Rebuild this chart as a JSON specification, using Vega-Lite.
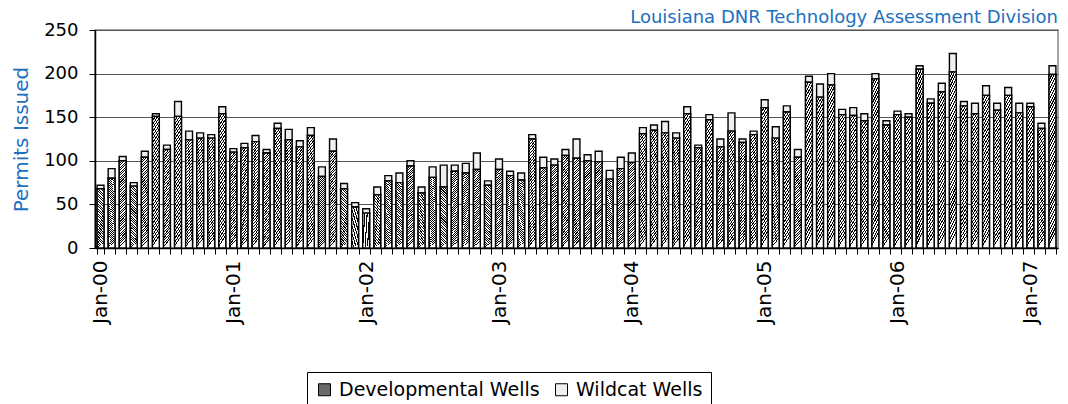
{
  "$schema": "https://vega.github.io/schema/vega-lite/v6.json",
  "width": 963,
  "height": 218,
  "autosize": {"type": "none"},
  "padding": {"left": 95, "top": 30, "right": 10, "bottom": 156},
  "background": "white",
  "title": {"text": "Louisiana DNR Technology Assessment Division", "anchor": "end", "frame": "group", "color": "#2070c0", "font": "DejaVu Sans", "fontSize": 18, "fontWeight": "normal", "offset": -6},
  "config": {"view": {"stroke": "#888888", "strokeWidth": 1.5}},
  "data": {"values": [
    {"m":"Jan-00","Developmental Wells":68,"Wildcat Wells":4},
    {"m":"Feb-00","Developmental Wells":80,"Wildcat Wells":11},
    {"m":"Mar-00","Developmental Wells":100,"Wildcat Wells":5},
    {"m":"Apr-00","Developmental Wells":71,"Wildcat Wells":4},
    {"m":"May-00","Developmental Wells":104,"Wildcat Wells":7},
    {"m":"Jun-00","Developmental Wells":151,"Wildcat Wells":3},
    {"m":"Jul-00","Developmental Wells":113,"Wildcat Wells":5},
    {"m":"Aug-00","Developmental Wells":151,"Wildcat Wells":17},
    {"m":"Sep-00","Developmental Wells":124,"Wildcat Wells":10},
    {"m":"Oct-00","Developmental Wells":126,"Wildcat Wells":6},
    {"m":"Nov-00","Developmental Wells":126,"Wildcat Wells":4},
    {"m":"Dec-00","Developmental Wells":154,"Wildcat Wells":8},
    {"m":"Jan-01","Developmental Wells":110,"Wildcat Wells":4},
    {"m":"Feb-01","Developmental Wells":115,"Wildcat Wells":5},
    {"m":"Mar-01","Developmental Wells":122,"Wildcat Wells":7},
    {"m":"Apr-01","Developmental Wells":109,"Wildcat Wells":4},
    {"m":"May-01","Developmental Wells":137,"Wildcat Wells":6},
    {"m":"Jun-01","Developmental Wells":124,"Wildcat Wells":12},
    {"m":"Jul-01","Developmental Wells":116,"Wildcat Wells":7},
    {"m":"Aug-01","Developmental Wells":129,"Wildcat Wells":9},
    {"m":"Sep-01","Developmental Wells":82,"Wildcat Wells":11},
    {"m":"Oct-01","Developmental Wells":111,"Wildcat Wells":14},
    {"m":"Nov-01","Developmental Wells":68,"Wildcat Wells":6},
    {"m":"Dec-01","Developmental Wells":47,"Wildcat Wells":5},
    {"m":"Jan-02","Developmental Wells":40,"Wildcat Wells":5},
    {"m":"Feb-02","Developmental Wells":61,"Wildcat Wells":9},
    {"m":"Mar-02","Developmental Wells":77,"Wildcat Wells":6},
    {"m":"Apr-02","Developmental Wells":75,"Wildcat Wells":11},
    {"m":"May-02","Developmental Wells":94,"Wildcat Wells":6},
    {"m":"Jun-02","Developmental Wells":63,"Wildcat Wells":7},
    {"m":"Jul-02","Developmental Wells":81,"Wildcat Wells":12},
    {"m":"Aug-02","Developmental Wells":70,"Wildcat Wells":25},
    {"m":"Sep-02","Developmental Wells":88,"Wildcat Wells":7},
    {"m":"Oct-02","Developmental Wells":86,"Wildcat Wells":11},
    {"m":"Nov-02","Developmental Wells":90,"Wildcat Wells":19},
    {"m":"Dec-02","Developmental Wells":72,"Wildcat Wells":5},
    {"m":"Jan-03","Developmental Wells":90,"Wildcat Wells":12},
    {"m":"Feb-03","Developmental Wells":83,"Wildcat Wells":5},
    {"m":"Mar-03","Developmental Wells":78,"Wildcat Wells":8},
    {"m":"Apr-03","Developmental Wells":125,"Wildcat Wells":5},
    {"m":"May-03","Developmental Wells":92,"Wildcat Wells":12},
    {"m":"Jun-03","Developmental Wells":95,"Wildcat Wells":7},
    {"m":"Jul-03","Developmental Wells":106,"Wildcat Wells":7},
    {"m":"Aug-03","Developmental Wells":103,"Wildcat Wells":22},
    {"m":"Sep-03","Developmental Wells":100,"Wildcat Wells":7},
    {"m":"Oct-03","Developmental Wells":99,"Wildcat Wells":12},
    {"m":"Nov-03","Developmental Wells":79,"Wildcat Wells":10},
    {"m":"Dec-03","Developmental Wells":91,"Wildcat Wells":13},
    {"m":"Jan-04","Developmental Wells":98,"Wildcat Wells":11},
    {"m":"Feb-04","Developmental Wells":131,"Wildcat Wells":7},
    {"m":"Mar-04","Developmental Wells":135,"Wildcat Wells":6},
    {"m":"Apr-04","Developmental Wells":132,"Wildcat Wells":13},
    {"m":"May-04","Developmental Wells":126,"Wildcat Wells":6},
    {"m":"Jun-04","Developmental Wells":154,"Wildcat Wells":8},
    {"m":"Jul-04","Developmental Wells":115,"Wildcat Wells":3},
    {"m":"Aug-04","Developmental Wells":147,"Wildcat Wells":6},
    {"m":"Sep-04","Developmental Wells":116,"Wildcat Wells":9},
    {"m":"Oct-04","Developmental Wells":134,"Wildcat Wells":21},
    {"m":"Nov-04","Developmental Wells":121,"Wildcat Wells":4},
    {"m":"Dec-04","Developmental Wells":130,"Wildcat Wells":4},
    {"m":"Jan-05","Developmental Wells":161,"Wildcat Wells":9},
    {"m":"Feb-05","Developmental Wells":126,"Wildcat Wells":13},
    {"m":"Mar-05","Developmental Wells":156,"Wildcat Wells":7},
    {"m":"Apr-05","Developmental Wells":104,"Wildcat Wells":9},
    {"m":"May-05","Developmental Wells":190,"Wildcat Wells":7},
    {"m":"Jun-05","Developmental Wells":173,"Wildcat Wells":15},
    {"m":"Jul-05","Developmental Wells":187,"Wildcat Wells":13},
    {"m":"Aug-05","Developmental Wells":153,"Wildcat Wells":6},
    {"m":"Sep-05","Developmental Wells":152,"Wildcat Wells":9},
    {"m":"Oct-05","Developmental Wells":146,"Wildcat Wells":8},
    {"m":"Nov-05","Developmental Wells":194,"Wildcat Wells":6},
    {"m":"Dec-05","Developmental Wells":141,"Wildcat Wells":5},
    {"m":"Jan-06","Developmental Wells":153,"Wildcat Wells":4},
    {"m":"Feb-06","Developmental Wells":150,"Wildcat Wells":4},
    {"m":"Mar-06","Developmental Wells":205,"Wildcat Wells":4},
    {"m":"Apr-06","Developmental Wells":166,"Wildcat Wells":5},
    {"m":"May-06","Developmental Wells":179,"Wildcat Wells":10},
    {"m":"Jun-06","Developmental Wells":202,"Wildcat Wells":21},
    {"m":"Jul-06","Developmental Wells":163,"Wildcat Wells":5},
    {"m":"Aug-06","Developmental Wells":154,"Wildcat Wells":12},
    {"m":"Sep-06","Developmental Wells":175,"Wildcat Wells":11},
    {"m":"Oct-06","Developmental Wells":158,"Wildcat Wells":8},
    {"m":"Nov-06","Developmental Wells":175,"Wildcat Wells":9},
    {"m":"Dec-06","Developmental Wells":155,"Wildcat Wells":11},
    {"m":"Jan-07","Developmental Wells":162,"Wildcat Wells":4},
    {"m":"Feb-07","Developmental Wells":137,"Wildcat Wells":6},
    {"m":"Mar-07","Developmental Wells":199,"Wildcat Wells":10}
  ]},
  "transform": [{"fold": ["Developmental Wells", "Wildcat Wells"], "as": ["type", "count"]}],
  "encoding": {
    "x": {
      "field": "m", "type": "ordinal", "sort": null,
      "scale": {"paddingInner": 0.38, "paddingOuter": 0.19},
      "axis": {
        "title": null, "labelAngle": 270, "tickBand": "extent", "labelOverlap": false,
        "labelExpr": "indexof(datum.label, 'Jan') === 0 ? datum.label : ''",
        "labelFont": "DejaVu Sans", "labelFontSize": 20, "labelColor": "black",
        "tickColor": "black", "tickSize": 6, "domainColor": "black", "domainWidth": 1.5, "labelPadding": 6
      }
    },
    "y": {
      "field": "count", "type": "quantitative", "stack": "zero",
      "scale": {"domain": [0, 250], "nice": false},
      "axis": {
        "title": "Permits Issued", "titleColor": "#2070c0", "titleFont": "DejaVu Sans", "titleFontSize": 20, "titleFontWeight": "normal", "titlePadding": 12,
        "values": [0, 50, 100, 150, 200, 250],
        "labelFont": "DejaVu Sans", "labelFontSize": 18, "labelColor": "black", "labelPadding": 11,
        "tickColor": "black", "tickSize": 6, "domainColor": "black", "domainWidth": 1.5,
        "grid": true, "gridColor": "#555555", "gridWidth": 1
      }
    }
  },
  "layer": [
    {
      "mark": {"type": "bar", "stroke": "black", "strokeWidth": 1.4},
      "encoding": {
        "order": {"field": "type", "sort": "ascending"},
        "fill": {
          "field": "type", "type": "nominal",
          "scale": {"domain": ["Developmental Wells", "Wildcat Wells"], "range": ["#6a6a6a", "#f0f0f0"]},
          "legend": {
            "title": null, "orient": "none", "legendX": 212, "legendY": 342, "direction": "horizontal",
            "strokeColor": "black", "fillColor": "white", "padding": 8,
            "labelFont": "DejaVu Sans", "labelFontSize": 19, "labelColor": "black", "labelLimit": 400,
            "symbolType": "square", "symbolSize": 144, "symbolStrokeColor": "black", "symbolStrokeWidth": 1,
            "columnPadding": 12, "labelOffset": 5
          }
        }
      }
    },
    {
      "transform": [{"filter": "datum.type === 'Developmental Wells'"}],
      "mark": {"type": "bar", "stroke": "black", "strokeWidth": 1.4,
        "fill": {"gradient": "linear", "x1": 0, "y1": 0, "x2": 0.08, "y2": 1, "stops": [
          {"offset":0,"color":"black"},{"offset":0.0125,"color":"black"},{"offset":0.0125,"color":"white"},{"offset":0.0278,"color":"white"},
          {"offset":0.0278,"color":"black"},{"offset":0.0403,"color":"black"},{"offset":0.0403,"color":"white"},{"offset":0.0556,"color":"white"},
          {"offset":0.0556,"color":"black"},{"offset":0.0681,"color":"black"},{"offset":0.0681,"color":"white"},{"offset":0.0833,"color":"white"},
          {"offset":0.0833,"color":"black"},{"offset":0.0958,"color":"black"},{"offset":0.0958,"color":"white"},{"offset":0.1111,"color":"white"},
          {"offset":0.1111,"color":"black"},{"offset":0.1236,"color":"black"},{"offset":0.1236,"color":"white"},{"offset":0.1389,"color":"white"},
          {"offset":0.1389,"color":"black"},{"offset":0.1514,"color":"black"},{"offset":0.1514,"color":"white"},{"offset":0.1667,"color":"white"},
          {"offset":0.1667,"color":"black"},{"offset":0.1792,"color":"black"},{"offset":0.1792,"color":"white"},{"offset":0.1944,"color":"white"},
          {"offset":0.1944,"color":"black"},{"offset":0.2069,"color":"black"},{"offset":0.2069,"color":"white"},{"offset":0.2222,"color":"white"},
          {"offset":0.2222,"color":"black"},{"offset":0.2347,"color":"black"},{"offset":0.2347,"color":"white"},{"offset":0.25,"color":"white"},
          {"offset":0.25,"color":"black"},{"offset":0.2625,"color":"black"},{"offset":0.2625,"color":"white"},{"offset":0.2778,"color":"white"},
          {"offset":0.2778,"color":"black"},{"offset":0.2903,"color":"black"},{"offset":0.2903,"color":"white"},{"offset":0.3056,"color":"white"},
          {"offset":0.3056,"color":"black"},{"offset":0.3181,"color":"black"},{"offset":0.3181,"color":"white"},{"offset":0.3333,"color":"white"},
          {"offset":0.3333,"color":"black"},{"offset":0.3458,"color":"black"},{"offset":0.3458,"color":"white"},{"offset":0.3611,"color":"white"},
          {"offset":0.3611,"color":"black"},{"offset":0.3736,"color":"black"},{"offset":0.3736,"color":"white"},{"offset":0.3889,"color":"white"},
          {"offset":0.3889,"color":"black"},{"offset":0.4014,"color":"black"},{"offset":0.4014,"color":"white"},{"offset":0.4167,"color":"white"},
          {"offset":0.4167,"color":"black"},{"offset":0.4292,"color":"black"},{"offset":0.4292,"color":"white"},{"offset":0.4444,"color":"white"},
          {"offset":0.4444,"color":"black"},{"offset":0.4569,"color":"black"},{"offset":0.4569,"color":"white"},{"offset":0.4722,"color":"white"},
          {"offset":0.4722,"color":"black"},{"offset":0.4847,"color":"black"},{"offset":0.4847,"color":"white"},{"offset":0.5,"color":"white"},
          {"offset":0.5,"color":"black"},{"offset":0.5125,"color":"black"},{"offset":0.5125,"color":"white"},{"offset":0.5278,"color":"white"},
          {"offset":0.5278,"color":"black"},{"offset":0.5403,"color":"black"},{"offset":0.5403,"color":"white"},{"offset":0.5556,"color":"white"},
          {"offset":0.5556,"color":"black"},{"offset":0.5681,"color":"black"},{"offset":0.5681,"color":"white"},{"offset":0.5833,"color":"white"},
          {"offset":0.5833,"color":"black"},{"offset":0.5958,"color":"black"},{"offset":0.5958,"color":"white"},{"offset":0.6111,"color":"white"},
          {"offset":0.6111,"color":"black"},{"offset":0.6236,"color":"black"},{"offset":0.6236,"color":"white"},{"offset":0.6389,"color":"white"},
          {"offset":0.6389,"color":"black"},{"offset":0.6514,"color":"black"},{"offset":0.6514,"color":"white"},{"offset":0.6667,"color":"white"},
          {"offset":0.6667,"color":"black"},{"offset":0.6792,"color":"black"},{"offset":0.6792,"color":"white"},{"offset":0.6944,"color":"white"},
          {"offset":0.6944,"color":"black"},{"offset":0.7069,"color":"black"},{"offset":0.7069,"color":"white"},{"offset":0.7222,"color":"white"},
          {"offset":0.7222,"color":"black"},{"offset":0.7347,"color":"black"},{"offset":0.7347,"color":"white"},{"offset":0.75,"color":"white"},
          {"offset":0.75,"color":"black"},{"offset":0.7625,"color":"black"},{"offset":0.7625,"color":"white"},{"offset":0.7778,"color":"white"},
          {"offset":0.7778,"color":"black"},{"offset":0.7903,"color":"black"},{"offset":0.7903,"color":"white"},{"offset":0.8056,"color":"white"},
          {"offset":0.8056,"color":"black"},{"offset":0.8181,"color":"black"},{"offset":0.8181,"color":"white"},{"offset":0.8333,"color":"white"},
          {"offset":0.8333,"color":"black"},{"offset":0.8458,"color":"black"},{"offset":0.8458,"color":"white"},{"offset":0.8611,"color":"white"},
          {"offset":0.8611,"color":"black"},{"offset":0.8736,"color":"black"},{"offset":0.8736,"color":"white"},{"offset":0.8889,"color":"white"},
          {"offset":0.8889,"color":"black"},{"offset":0.9014,"color":"black"},{"offset":0.9014,"color":"white"},{"offset":0.9167,"color":"white"},
          {"offset":0.9167,"color":"black"},{"offset":0.9292,"color":"black"},{"offset":0.9292,"color":"white"},{"offset":0.9444,"color":"white"},
          {"offset":0.9444,"color":"black"},{"offset":0.9569,"color":"black"},{"offset":0.9569,"color":"white"},{"offset":0.9722,"color":"white"},
          {"offset":0.9722,"color":"black"},{"offset":0.9847,"color":"black"},{"offset":0.9847,"color":"white"},{"offset":1,"color":"white"}
        ]}
      }
    }
  ]
}
